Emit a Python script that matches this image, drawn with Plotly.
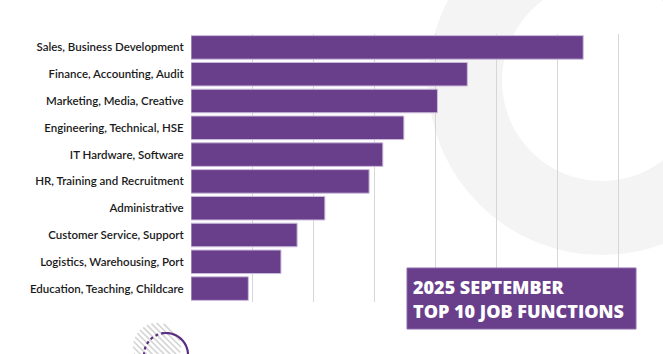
import math
import plotly.graph_objects as go

categories = [
    "Sales, Business Development",
    "Finance, Accounting, Audit",
    "Marketing, Media, Creative",
    "Engineering, Technical, HSE",
    "IT Hardware, Software",
    "HR, Training and Recruitment",
    "Administrative",
    "Customer Service, Support",
    "Logistics, Warehousing, Port",
    "Education, Teaching, Childcare",
]
values = [12.86, 9.06, 8.08, 6.98, 6.29, 5.84, 4.39, 3.48, 2.95, 1.88]
title_lines = ["2025 SEPTEMBER", "TOP 10 JOB FUNCTIONS"]

W, H = 663, 354
L, R, T, B = 191, 0, 34, 52
PW, PH = W - L - R, H - T - B
PURPLE = "#693f8c"


def px(x):
    return (x - L) / PW


def py(y):
    return (H - B - y) / PH


fig = go.Figure(
    go.Bar(
        x=values[::-1],
        y=categories[::-1],
        orientation="h",
        marker=dict(color=PURPLE, line=dict(color="#cdbddc", width=1)),
        hoverinfo="skip",
    )
)

shapes = []
# big decorative ring (top right)
cx, cy, ro, ri = 602, 81, 174, 100
shapes.append(dict(type="circle", xref="paper", yref="paper", layer="below",
                   x0=px(cx - ro), x1=px(cx + ro), y0=py(cy + ro), y1=py(cy - ro),
                   fillcolor="#f4f4f4", line=dict(width=0)))
shapes.append(dict(type="circle", xref="paper", yref="paper", layer="below",
                   x0=px(cx - ri), x1=px(cx + ri), y0=py(cy + ri), y1=py(cy - ri),
                   fillcolor="#ffffff", line=dict(width=0)))

# hatched circle (bottom left)
hx, hy, hr = 157, 347, 24
for k in range(-12, 13):
    off = k * 4.2
    if abs(off) >= hr:
        continue
    half = math.sqrt(hr * hr - off * off)
    ox, oy = hx + off / math.sqrt(2), hy - off / math.sqrt(2)
    x0, y0 = ox - half / math.sqrt(2), oy - half / math.sqrt(2)
    x1, y1 = ox + half / math.sqrt(2), oy + half / math.sqrt(2)
    shapes.append(dict(type="line", xref="paper", yref="paper", layer="above",
                       x0=px(x0), y0=py(y0), x1=px(x1), y1=py(y1),
                       line=dict(color="#d4d4d4", width=1.6)))

# purple circle: dotted left part, solid right part
pcx, pcy, pr = 166, 355, 22


def arc(a0, a1, n=40):
    pts = []
    for i in range(n + 1):
        a = math.radians(a0 + (a1 - a0) * i / n)
        x = pcx + pr * math.cos(a)
        y = pcy - pr * math.sin(a)
        pts.append(f"{px(x):.5f},{py(y):.5f}")
    return "M " + " L ".join(pts)


shapes.append(dict(type="path", xref="paper", yref="paper", layer="above",
                   path=arc(95, 200), line=dict(color="#5b2d83", width=2.2, dash="dot")))
shapes.append(dict(type="path", xref="paper", yref="paper", layer="above",
                   path=arc(-20, 95), line=dict(color="#5b2d83", width=2.2)))

# title box
bx0, bx1, by0, by1 = 407, 636, 268, 329
shapes.append(dict(type="rect", xref="paper", yref="paper", layer="above",
                   x0=px(bx0), x1=px(bx1), y0=py(by1), y1=py(by0),
                   fillcolor=PURPLE, line=dict(color="#8e6aad", width=1)))

annotations = []
for i, line in enumerate(title_lines):
    annotations.append(dict(
        text=line, xref="paper", yref="paper", showarrow=False,
        x=px(411), y=py(287 + i * 24), xanchor="left", yanchor="middle",
        font=dict(family="Open Sans", size=18, color="white", weight=800),
    ))

fig.update_layout(
    width=W, height=H,
    margin=dict(l=L, r=R, t=T, b=B, pad=0),
    paper_bgcolor="white",
    plot_bgcolor="rgba(0,0,0,0)",
    bargap=0.12,
    showlegend=False,
    shapes=shapes,
    annotations=annotations,
    xaxis=dict(range=[0, PW / 30.5], dtick=2, showticklabels=False,
               showgrid=True, gridcolor="#d6d6d6", gridwidth=1.3,
               zeroline=False, showline=False, fixedrange=True),
    yaxis=dict(showgrid=False, zeroline=False, showline=False,
               ticks="outside", ticklen=4, tickcolor="rgba(0,0,0,0)",
               tickfont=dict(family="Lato", size=11.5, color="#1a1a1a", weight=600),
               fixedrange=True),
)

fig.write_html("out.html", config={"displayModeBar": False})
